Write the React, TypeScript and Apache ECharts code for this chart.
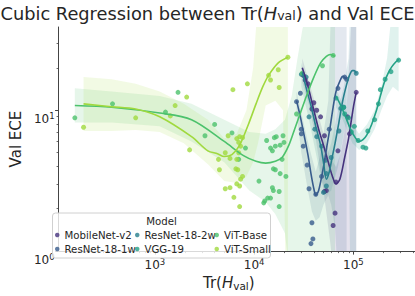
import React, { useEffect, useRef } from "react";
import * as echarts from "echarts";

const models = ["MobileNet-v2", "ResNet-18-1w", "ResNet-18-2w", "VGG-19", "ViT-Base", "ViT-Small"];
const colors = ["#45327d", "#375b8c", "#277f8d", "#22a186", "#4cc26c", "#a0d93e"];

// scatter points: [Tr(H_val), Val ECE]
const mobileNetPoints = [[31260,17.7],[32710,16.4],[34990,15.4],[39980,11.3],[38240,10.2],[42740,10.0],[46730,8.98],[51140,6.59],[51140,2.65],[53450,2.69],[65390,1.86],[62520,1.52],[66860,3.09],[69920,5.15],[87440,8.98],[91400,6.8],[106900,13.4]];
const resnet1wPoints = [[26750,11.5],[29240,13.2],[29910,7.34],[29910,6.8],[31260,5.56],[34190,4.08],[35740,2.77],[37390,1.13],[38240,1.59],[39100,1.22],[41800,2.53],[47840,3.39],[57190,7.34],[69920,14.3],[81760,17.2],[85500,16.6]];
const resnet2wPoints = [[29910,18.0],[33440,17.2],[35740,8.98],[40880,7.34],[42740,6.49],[47840,5.56],[52270,4.41],[53450,3.55],[53450,2.9],[50000,2.61],[59800,4.62],[71470,7.12],[74780,10.3],[79950,10.5],[106900,18.3]];
const vggPoints = [[66860,12.2],[79950,10.5],[81760,9.4],[89380,8.84],[95590,7.01],[102200,7.69],[111800,6.1],[125000,5.47],[133700,5.39],[139800,7.12],[163600,8.57],[178800,11.1],[187000,14.0],[209100,16.6],[239200,18.8],[285900,22.7]];
const vitBasePoints = [[156,8.84],[374,11.1],[1279,9.7],[1710,13.4],[3197,6.59],[4000,7.93],[5980,6.9],[6993,4.48],[8180,5.39],[11190,3.14],[12790,2.27],[13370,6.1],[14630,5.39],[15280,5.15],[16360,5.56],[15990,6.39],[16720,6.49],[18290,5.65],[19130,4.48],[15630,3.84],[16360,3.78],[18290,3.55],[20910,3.39],[15280,2.82],[15630,2.69],[17880,2.65],[13680,2.38],[14630,2.38],[12500,2.2],[17880,2.07],[20000,5.91],[26750,9.4],[30570,18.3],[48860,20.7],[62520,24.5],[19550,6.59]];
const vitSmallPoints = [[191,7.57],[640,8.84],[1430,9.12],[1599,10.8],[2091,12.4],[2237,5.23],[4375,4.48],[4470,3.78],[5117,4.99],[5470,6.59],[5715,4.55],[6110,14.0],[8550,15.4],[6683,6.29],[7145,6.49],[7641,6.39],[6993,5.91],[7311,5.56],[6993,4.99],[6683,4.48],[6543,3.84],[6839,3.78],[7311,3.24],[7641,3.39],[6683,3.0],[7145,2.9],[5715,2.82],[5117,2.77],[6252,2.41],[7145,2.07],[13990,17.7],[14630,16.4],[17500,19.4],[17880,14.5],[21880,23.8]];

// cubic regression curves: [Tr(H_val), fitted Val ECE]
const mobileNetFit = [[30570,20.0],[34990,14.7],[39980,10.0],[44690,7.34],[50000,5.65],[55930,4.27],[61110,3.44],[66860,3.0],[73110,3.24],[81760,4.62],[89380,6.29],[93470,7.69],[100000,10.5],[106900,13.4]];
const resnet1wFit = [[26750,11.7],[29240,8.98],[31970,6.59],[34990,4.76],[37390,3.55],[39980,2.77],[41800,2.49],[44690,2.69],[50000,3.96],[54700,5.82],[58480,7.69],[62520,10.5],[66860,13.6],[73110,16.1],[78180,17.4],[85500,16.6]];
const resnet2wFit = [[30570,18.6],[34190,13.6],[37390,10.8],[41800,7.69],[46730,5.65],[50000,4.27],[53450,3.24],[57190,3.66],[61110,4.62],[65390,5.82],[71470,8.18],[78180,11.7],[85500,15.2],[91400,17.7],[97750,19.1],[102200,19.1],[106900,18.3]];
const vggFit = [[66860,12.6],[74780,10.8],[83610,8.98],[93470,7.34],[104500,6.39],[114300,6.01],[125000,6.19],[136800,6.69],[152800,7.93],[171000,10.0],[187000,12.6],[204500,15.7],[223700,18.3],[244500,20.4],[267300,22.0],[285900,23.0]];
const vitBaseFit = [[156,10.8],[366,10.5],[1118,9.55],[2339,8.57],[5000,6.01],[7816,4.76],[10450,4.34],[13080,4.21],[16360,4.34],[19130,4.62],[22390,5.65],[25590,7.34],[29910,10.0],[34190,13.0],[39980,17.2],[46730,21.7],[53450,24.1],[58480,24.9],[65390,24.1]];
const vitSmallFit = [[191,11.1],[366,10.6],[640,10.2],[1118,8.98],[2339,6.49],[3420,5.15],[4276,4.91],[5000,4.69],[5980,4.84],[7145,5.65],[8750,7.93],[10450,11.1],[12230,14.7],[13990,17.7],[17500,21.7],[21880,23.8]];

// confidence bands: [Tr(H_val), lower, upper]
const mobileNetBand = [[30570,15.9,23.4],[35740,10.8,15.9],[41800,6.29,10.8],[50000,2.69,6.8],[58480,1.15,4.62],[66860,0.5,3.96],[74780,0.5,4.99],[83610,0.5,7.93],[91400,0.5,23.4],[97750,0.5,60],[106900,0.5,60]];
const resnet1wBand = [[26750,9.55,13.6],[29910,4.99,9.55],[34190,2.9,6.29],[38240,1.91,4.62],[41800,1.64,3.66],[45710,1.74,4.62],[50000,2.13,6.8],[55930,2.49,11.7],[59800,2.13,60],[65390,1.45,60],[71470,0.5,60],[85500,0.5,60]];
const resnet2wBand = [[29910,14.7,21.7],[35740,8.57,13.6],[41800,4.99,8.57],[47840,3.14,5.82],[53450,2.49,4.62],[59800,2.69,5.82],[69920,3.96,10.0],[79950,6.8,14.7],[89380,9.26,23.4],[93470,0.5,60],[106900,0.5,60]];
const vggBand = [[66860,10.5,14.3],[78180,8.57,11.1],[97750,5.82,7.93],[114300,5.23,6.8],[136800,5.82,7.93],[163600,7.34,10.0],[191300,10.0,14.7],[218800,12.6,23.4],[250000,14.7,60],[285900,13.6,60]];
const vitBaseBand = [[156,8.18,14.3],[366,8.18,13.6],[1118,7.69,12.6],[2339,6.01,11.1],[5000,4.27,8.57],[8935,2.69,7.01],[13080,2.23,6.8],[16360,1.83,7.34],[20460,1.34,8.57],[23920,0.5,12.6],[27360,0.5,23.4],[30570,0.5,37.2],[35740,0.5,60],[44690,0.5,60],[55930,0.5,60],[65390,0.5,60]];
const vitSmallBand = [[191,7.12,17.2],[366,7.12,16.6],[640,7.23,15.4],[1118,7.01,13.6],[1955,5.82,11.1],[3420,4.14,8.57],[5000,3.14,6.29],[6683,3.04,6.8],[8360,3.39,10.0],[9780,4.27,20.0],[10940,5.82,60],[13080,10.8,60],[16360,11.7,60],[19550,10.0,60],[20910,0.5,60],[21880,0.5,60]];

const pointsByModel = [mobileNetPoints, resnet1wPoints, resnet2wPoints, vggPoints, vitBasePoints, vitSmallPoints];
const fitByModel = [mobileNetFit, resnet1wFit, resnet2wFit, vggFit, vitBaseFit, vitSmallFit];
const bandByModel = [mobileNetBand, resnet1wBand, resnet2wBand, vggBand, vitBaseBand, vitSmallBand];

const xRange = [107, 418000];
const yRange = [1, 39];
const xMajorTicks = [1000, 10000, 100000];
const xMinorTicks = [200,300,400,500,600,700,800,900,2000,3000,4000,5000,6000,7000,8000,9000,20000,30000,40000,50000,60000,70000,80000,90000,200000,300000,400000];
const yMajorTicks = [1, 10];
const yMinorTicks = [2,3,4,5,6,7,8,9,20,30];

const L = (v: number) => Math.log10(v);
const FONT = "DejaVu Sans";
const TXT = "#262626";
const AXIS = "#444";

export default function App() {
  const ref = useRef<HTMLDivElement>(null);
  useEffect(() => {
    if (!ref.current) return;
    const chart = echarts.init(ref.current, undefined, { renderer: "svg" });
    const series: any[] = [];
    models.forEach((m, i) => {
      const bandData = bandByModel[i].map(([x, lo, hi]) => [L(x), L(lo), L(hi)]);
      series.push({
        type: "custom",
        name: m + " CI",
        silent: true,
        clip: true,
        z: 1,
        xAxisIndex: 0,
        yAxisIndex: 0,
        data: bandData,
        renderItem: (params: any, api: any) => {
          if (params.dataIndex !== 0) return null;
          const upper = bandData.map((d) => api.coord([d[0], d[2]]));
          const lower = bandData.map((d) => api.coord([d[0], d[1]])).reverse();
          return {
            type: "polygon",
            shape: { points: upper.concat(lower) },
            style: { fill: colors[i], opacity: 0.14 },
          };
        },
      });
    });
    models.forEach((m, i) => {
      series.push({
        type: "scatter",
        name: m,
        data: pointsByModel[i].map(([x, y]) => [L(x), L(y)]),
        symbolSize: 5,
        itemStyle: { color: colors[i], opacity: 0.8 },
        z: 3,
        silent: true,
      });
      series.push({
        type: "line",
        name: m + " fit",
        data: fitByModel[i].map(([x, y]) => [L(x), L(y)]),
        smooth: 0.3,
        showSymbol: false,
        lineStyle: { color: colors[i], width: 1.6 },
        z: 4,
        silent: true,
      });
    });

    const supLabel = (v: number) => `{b|10}{s|${Math.round(v)}}`;
    const labelRich = {
      b: { fontSize: 12, fontFamily: FONT, color: TXT },
      s: { fontSize: 8.5, fontFamily: FONT, color: TXT, padding: [0, 0, 6, 0] },
    };
    const nameRich = {
      n: { fontSize: 15, fontFamily: FONT, color: TXT },
      i: { fontSize: 15, fontFamily: FONT, color: TXT, fontStyle: "italic" },
      sub: { fontSize: 10.5, fontFamily: FONT, color: TXT, padding: [5, 0, 0, 0] },
    };
    const legendCommon = {
      orient: "vertical",
      itemGap: 0,
      itemWidth: 4.5,
      itemHeight: 4.5,
      icon: "circle",
      padding: 0,
      selectedMode: false,
      z: 6,
      textStyle: { fontSize: 10.2, lineHeight: 14, color: TXT, fontFamily: FONT },
    };

    chart.setOption({
      animation: false,
      textStyle: { fontFamily: FONT },
      title: {
        text: "Cubic Regression between Tr({i|H}{sub|val}) and Val ECE",
        left: "center",
        top: -1,
        textStyle: {
          fontSize: 17.8,
          fontWeight: "normal",
          color: TXT,
          fontFamily: FONT,
          rich: {
            i: { fontSize: 17.8, fontStyle: "italic", fontFamily: FONT, color: TXT },
            sub: { fontSize: 12.5, fontFamily: FONT, color: TXT, padding: [5, 0, 0, 0] },
          },
        },
      },
      grid: { left: 45, right: 0, top: 27, bottom: 32, containLabel: false },
      xAxis: [
        {
          type: "value",
          position: "bottom",
          min: L(xRange[0]),
          max: L(xRange[1]),
          name: "{n|Tr(}{i|H}{sub|val}{n|)}",
          nameLocation: "middle",
          nameGap: 16,
          nameTextStyle: { rich: nameRich, padding: [0, 16, 0, 0] },
          axisLine: { show: true, onZero: false, lineStyle: { color: AXIS, width: 1 } },
          axisTick: { show: true, customValues: xMajorTicks.map(L), length: 3.5, lineStyle: { color: AXIS } },
          axisLabel: { show: true, customValues: xMajorTicks.map(L), formatter: supLabel, rich: labelRich, margin: 6 },
          splitLine: { show: false },
        },
        {
          type: "value",
          position: "bottom",
          min: L(xRange[0]),
          max: L(xRange[1]),
          axisLine: { show: false, onZero: false },
          axisTick: { show: true, customValues: xMinorTicks.map(L), length: 2, lineStyle: { color: AXIS, width: 0.8 } },
          axisLabel: { show: false },
          splitLine: { show: false },
        },
      ],
      yAxis: [
        {
          type: "value",
          position: "left",
          min: L(yRange[0]),
          max: L(yRange[1]),
          name: "Val ECE",
          nameLocation: "middle",
          nameGap: 34,
          nameTextStyle: { fontSize: 15, color: TXT, fontFamily: FONT },
          axisLine: { show: true, onZero: false, lineStyle: { color: AXIS, width: 1 } },
          axisTick: { show: true, customValues: yMajorTicks.map(L), length: 3.5, lineStyle: { color: AXIS } },
          axisLabel: { show: true, customValues: yMajorTicks.map(L), formatter: supLabel, rich: labelRich, margin: 4, padding: [17, 0, 0, 0] },
          splitLine: { show: false },
        },
        {
          type: "value",
          position: "left",
          min: L(yRange[0]),
          max: L(yRange[1]),
          axisLine: { show: false, onZero: false },
          axisTick: { show: true, customValues: yMinorTicks.map(L), length: 2, lineStyle: { color: AXIS, width: 0.8 } },
          axisLabel: { show: false },
          splitLine: { show: false },
        },
      ],
      legend: [
        { ...legendCommon, data: [models[0], models[1]], left: 55, top: 228 },
        { ...legendCommon, data: [models[2], models[3]], left: 135, top: 228 },
        { ...legendCommon, data: [models[4], models[5]], left: 214.5, top: 228 },
      ],
      graphic: [
        {
          type: "rect",
          z: 5,
          shape: { x: 52.5, y: 213, width: 218, height: 45, r: 3 },
          style: { fill: "rgba(255,255,255,0.8)", stroke: "#d0d0d0", lineWidth: 1 },
          silent: true,
        },
        {
          type: "text",
          z: 6,
          x: 161.5,
          y: 221,
          style: { text: "Model", fontSize: 10.2, fontFamily: FONT, fill: TXT, textAlign: "center", textVerticalAlign: "middle" },
          silent: true,
        },
      ],
      series,
    });
    return () => chart.dispose();
  }, []);
  return <div ref={ref} style={{ position: "absolute", left: 0, top: 0, width: 415, height: 296 }} />;
}
